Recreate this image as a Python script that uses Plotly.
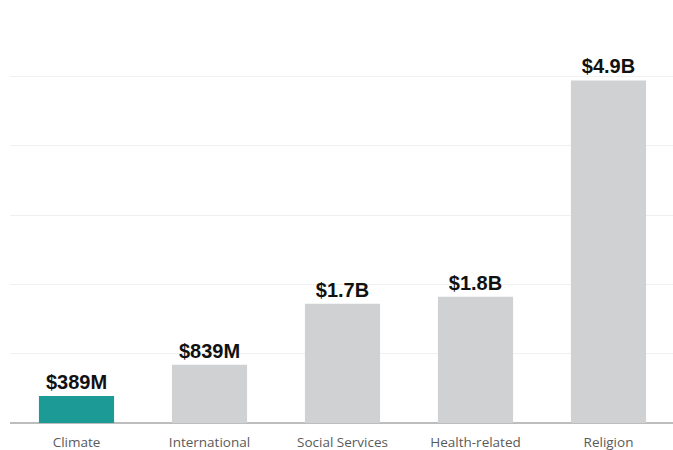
import plotly.graph_objects as go

# Giving by cause, in billions of dollars
categories = ["Climate", "International", "Social Services", "Health-related", "Religion"]
values_b = [0.389, 0.839, 1.72, 1.82, 4.94]
bar_colors = ["#1b9a96", "#d0d1d3", "#d0d1d3", "#d0d1d3", "#d0d1d3"]


def money(v):
    if v < 1:
        return f"${v * 1000:.0f}M"
    return f"${v:.1f}B"


labels = [money(v) for v in values_b]

fig = go.Figure(
    go.Bar(
        x=categories,
        y=values_b,
        marker=dict(color=bar_colors, line=dict(width=0)),
        width=0.565,
        text=labels,
        texttemplate="<b>%{text}</b>",
        textposition="outside",
        cliponaxis=False,
        textfont=dict(family="Liberation Sans, Arial, sans-serif", size=20, color="#111111"),
        hoverinfo="skip",
    )
)

fig.update_layout(
    width=673,
    height=450,
    margin=dict(l=10, r=0, t=7, b=27),
    paper_bgcolor="white",
    plot_bgcolor="white",
    showlegend=False,
    font=dict(family="Liberation Sans, Arial, sans-serif"),
    uniformtext=dict(mode=False),
    xaxis=dict(
        range=[-0.5, 4.485],
        showgrid=False,
        showline=False,
        ticks="",
        ticklabelstandoff=9,
        automargin=False,
        tickfont=dict(family="Open Sans, sans-serif", size=13.5, color="#5a5a5a"),
    ),
    yaxis=dict(
        range=[0, 6],
        dtick=1,
        showgrid=True,
        gridcolor="#f0f0f0",
        gridwidth=1,
        zeroline=True,
        zerolinecolor="#bdbdbd",
        zerolinewidth=1.5,
        showticklabels=False,
        showline=False,
        automargin=False,
    ),
)

fig.write_html("out.html")
